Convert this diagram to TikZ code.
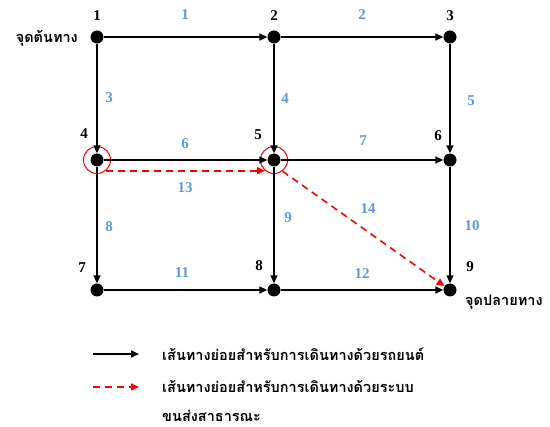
\documentclass[tikz,border=0pt]{standalone}
\usepackage{fontspec}
\setmainfont{Liberation Serif}
\newfontfamily\thai[Script=Thai]{Loma}
\usetikzlibrary{arrows.meta}
\definecolor{lblue}{RGB}{91,155,213}
\begin{document}
\begin{tikzpicture}[x=1pt,y=-1pt,
  dot/.style={circle,fill=black,inner sep=0pt,minimum size=13pt},
  ring/.style={circle,draw=red,line width=1pt,inner sep=0pt,minimum size=27pt},
  road/.style={line width=1.6pt,-{Triangle[length=8pt,width=7pt]}},
  transit/.style={red,line width=1.6pt,dash pattern=on 7pt off 5pt,-{Triangle[length=8pt,width=7pt]}},
  num/.style={font=\fontsize{15}{15}\selectfont\bfseries,inner sep=0pt},
  elbl/.style={font=\fontsize{15}{15}\selectfont\bfseries,text=lblue,inner sep=0pt},
  thaitxt/.style={font=\thai\bfseries\fontsize{14.5}{14.5}\selectfont,inner sep=0pt}]
\useasboundingbox (0,0) rectangle (550,427);
% nodes
\node[dot] (n1) at (97,37) {};
\node[dot] (n2) at (274,37) {};
\node[dot] (n3) at (450,37) {};
\node[dot] (n4) at (97,160) {};
\node[dot] (n5) at (274,160) {};
\node[dot] (n6) at (450,160) {};
\node[dot] (n7) at (97,290) {};
\node[dot] (n8) at (274,290) {};
\node[dot] (n9) at (450,290) {};
\node[ring] (c4) at (97,160) {};
\node[ring] (c5) at (274,160) {};
% node labels
\node[num] (l1) at (97,16) {1};
\node[num] (l2) at (274,16) {2};
\node[num] (l3) at (450,16) {3};
\node[num] (l4) at (84,134) {4};
\node[num] (l5) at (258,135) {5};
\node[num] (l6) at (438,136) {6};
\node[num] (l7) at (82,268) {7};
\node[num] (l8) at (259,266) {8};
\node[num] (l9) at (470,267) {9};
% roads
\draw[road] (n1) -- (n2);
\draw[road] (n2) -- (n3);
\draw[road] (n1) -- (n4);
\draw[road] (n2) -- (n5);
\draw[road] (n3) -- (n6);
\draw[road] (n4) -- (n5);
\draw[road] (n5) -- (n6);
\draw[road] (n4) -- (n7);
\draw[road] (n5) -- (n8);
\draw[road] (n6) -- (n9);
\draw[road] (n7) -- (n8);
\draw[road] (n8) -- (n9);
% transit
\draw[transit] (c4.-50) -- (c5.-130);
\draw[transit] (c5.-53) -- (n9);
% edge labels
\node[elbl] (e1) at (185,15) {1};
\node[elbl] (e2) at (362,15) {2};
\node[elbl] (e3) at (109,98) {3};
\node[elbl] (e4) at (285,99) {4};
\node[elbl] (e5) at (471,101) {5};
\node[elbl] (e6) at (185,144) {6};
\node[elbl] (e7) at (363,141) {7};
\node[elbl] (e13) at (185,188) {13};
\node[elbl] (e8) at (109,227) {8};
\node[elbl] (e9) at (288,218) {9};
\node[elbl] (e14) at (368,209) {14};
\node[elbl] (e10) at (472,226) {10};
\node[elbl] (e11) at (182,273) {11};
\node[elbl] (e12) at (362,274) {12};
% thai labels
\node[thaitxt,anchor=east] (start) at (78,38) {จุดต้นทาง};
\node[thaitxt,anchor=west] (end) at (465,302) {จุดปลายทาง};
% legend
\coordinate (la1) at (93,354);
\coordinate (lb1) at (139,354);
\draw[road] (la1) -- (lb1);
\coordinate (la2) at (93,387);
\coordinate (lb2) at (139,387);
\draw[transit] (la2) -- (lb2);
\node[thaitxt,anchor=west] (t1) at (162,354) {เส้นทางย่อยสำหรับการเดินทางด้วยรถยนต์};
\node[thaitxt,anchor=west] (t2) at (162,386) {เส้นทางย่อยสำหรับการเดินทางด้วยระบบ};
\node[thaitxt,anchor=west] (t3) at (162,416) {ขนส่งสาธารณะ};
\end{tikzpicture}
\end{document}
